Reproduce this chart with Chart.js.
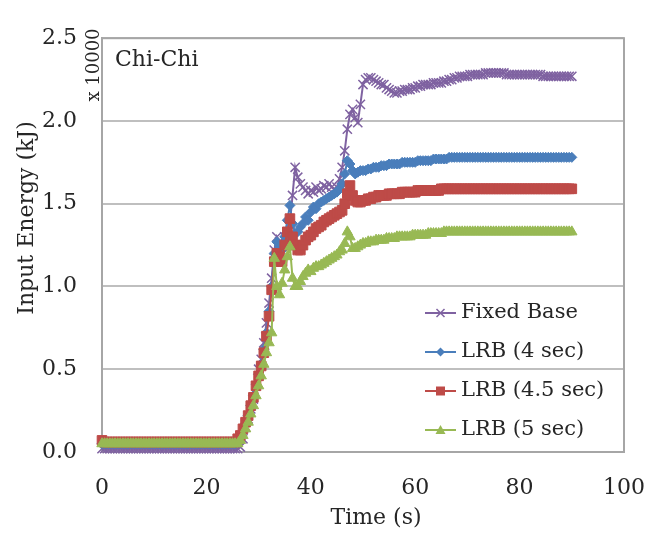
<!DOCTYPE html>
<html><head><meta charset="utf-8">
<script src="https://cdn.jsdelivr.net/npm/chart.js@4.4.1/dist/chart.umd.min.js"></script>
<style>html,body{margin:0;padding:0;background:#fff;}#wrap{width:668px;height:534px;}</style>
</head><body><div id="wrap"><canvas id="c" width="668" height="534"></canvas></div>
<script>
// ---- data (one sample every 0.5 s) ----
const timeSec = [
0,0.5,1,1.5,2,2.5,3,3.5,4,4.5,
5,5.5,6,6.5,7,7.5,8,8.5,9,9.5,
10,10.5,11,11.5,12,12.5,13,13.5,14,14.5,
15,15.5,16,16.5,17,17.5,18,18.5,19,19.5,
20,20.5,21,21.5,22,22.5,23,23.5,24,24.5,
25,25.5,26,26.5,27,27.5,28,28.5,29,29.5,
30,30.5,31,31.5,32,32.5,33,33.5,34,34.5,
35,35.5,36,36.5,37,37.5,38,38.5,39,39.5,
40,40.5,41,41.5,42,42.5,43,43.5,44,44.5,
45,45.5,46,46.5,47,47.5,48,48.5,49,49.5,
50,50.5,51,51.5,52,52.5,53,53.5,54,54.5,
55,55.5,56,56.5,57,57.5,58,58.5,59,59.5,
60,60.5,61,61.5,62,62.5,63,63.5,64,64.5,
65,65.5,66,66.5,67,67.5,68,68.5,69,69.5,
70,70.5,71,71.5,72,72.5,73,73.5,74,74.5,
75,75.5,76,76.5,77,77.5,78,78.5,79,79.5,
80,80.5,81,81.5,82,82.5,83,83.5,84,84.5,
85,85.5,86,86.5,87,87.5,88,88.5,89,89.5,
90];

const fixedBase = [
0.02,0.02,0.02,0.02,0.02,0.02,0.02,0.02,0.02,0.02,
0.02,0.02,0.02,0.02,0.02,0.02,0.02,0.02,0.02,0.02,
0.02,0.02,0.02,0.02,0.02,0.02,0.02,0.02,0.02,0.02,
0.02,0.02,0.02,0.02,0.02,0.02,0.02,0.02,0.02,0.02,
0.02,0.02,0.02,0.02,0.02,0.02,0.02,0.02,0.02,0.02,
0.02,0.02,0.02,0.03,0.08,0.15,0.20,0.26,0.32,0.40,
0.50,0.56,0.66,0.78,0.90,1.05,1.22,1.30,1.27,1.25,
1.30,1.33,1.38,1.55,1.72,1.66,1.62,1.60,1.58,1.56,
1.58,1.57,1.60,1.58,1.59,1.61,1.60,1.62,1.60,1.59,
1.60,1.65,1.72,1.82,1.95,2.04,2.07,2.02,1.99,2.10,
2.22,2.25,2.26,2.26,2.25,2.24,2.23,2.22,2.22,2.20,
2.19,2.18,2.17,2.17,2.18,2.18,2.19,2.19,2.19,2.20,
2.20,2.21,2.21,2.22,2.22,2.22,2.22,2.23,2.23,2.23,
2.23,2.24,2.24,2.25,2.25,2.26,2.26,2.27,2.27,2.27,
2.27,2.28,2.28,2.28,2.28,2.28,2.28,2.29,2.29,2.29,
2.29,2.29,2.29,2.29,2.29,2.28,2.28,2.28,2.28,2.28,
2.28,2.28,2.28,2.28,2.28,2.28,2.28,2.28,2.28,2.27,
2.27,2.27,2.27,2.27,2.27,2.27,2.27,2.27,2.27,2.27,
2.27];

const lrb4 = [
0.05,0.05,0.05,0.05,0.05,0.05,0.05,0.05,0.05,0.05,
0.05,0.05,0.05,0.05,0.05,0.05,0.05,0.05,0.05,0.05,
0.05,0.05,0.05,0.05,0.05,0.05,0.05,0.05,0.05,0.05,
0.05,0.05,0.05,0.05,0.05,0.05,0.05,0.05,0.05,0.05,
0.05,0.05,0.05,0.05,0.05,0.05,0.05,0.05,0.05,0.05,
0.05,0.05,0.06,0.08,0.12,0.17,0.22,0.28,0.34,0.41,
0.47,0.53,0.62,0.72,0.85,1.00,1.20,1.27,1.25,1.22,
1.30,1.40,1.49,1.38,1.32,1.33,1.36,1.38,1.42,1.40,
1.45,1.48,1.47,1.50,1.51,1.52,1.53,1.54,1.55,1.56,
1.57,1.59,1.62,1.68,1.76,1.74,1.70,1.68,1.69,1.70,
1.70,1.70,1.71,1.71,1.72,1.72,1.72,1.73,1.73,1.73,
1.74,1.74,1.74,1.74,1.74,1.75,1.75,1.75,1.75,1.75,
1.75,1.76,1.76,1.76,1.76,1.76,1.76,1.77,1.77,1.77,
1.77,1.77,1.77,1.78,1.78,1.78,1.78,1.78,1.78,1.78,
1.78,1.78,1.78,1.78,1.78,1.78,1.78,1.78,1.78,1.78,
1.78,1.78,1.78,1.78,1.78,1.78,1.78,1.78,1.78,1.78,
1.78,1.78,1.78,1.78,1.78,1.78,1.78,1.78,1.78,1.78,
1.78,1.78,1.78,1.78,1.78,1.78,1.78,1.78,1.78,1.78,
1.78];

const lrb45 = [
0.07,0.06,0.06,0.06,0.06,0.06,0.06,0.06,0.06,0.06,
0.06,0.06,0.06,0.06,0.06,0.06,0.06,0.06,0.06,0.06,
0.06,0.06,0.06,0.06,0.06,0.06,0.06,0.06,0.06,0.06,
0.06,0.06,0.06,0.06,0.06,0.06,0.06,0.06,0.06,0.06,
0.06,0.06,0.06,0.06,0.06,0.06,0.06,0.06,0.06,0.06,
0.06,0.06,0.08,0.10,0.14,0.18,0.22,0.28,0.33,0.40,
0.46,0.52,0.60,0.70,0.82,0.98,1.15,1.20,1.18,1.15,
1.25,1.33,1.41,1.30,1.25,1.22,1.22,1.25,1.28,1.30,
1.31,1.33,1.35,1.36,1.37,1.39,1.40,1.41,1.42,1.43,
1.44,1.45,1.46,1.50,1.56,1.61,1.55,1.52,1.51,1.51,
1.52,1.52,1.53,1.53,1.54,1.54,1.55,1.55,1.55,1.55,
1.56,1.56,1.56,1.56,1.56,1.57,1.57,1.57,1.57,1.57,
1.57,1.58,1.58,1.58,1.58,1.58,1.58,1.58,1.58,1.58,
1.59,1.59,1.59,1.59,1.59,1.59,1.59,1.59,1.59,1.59,
1.59,1.59,1.59,1.59,1.59,1.59,1.59,1.59,1.59,1.59,
1.59,1.59,1.59,1.59,1.59,1.59,1.59,1.59,1.59,1.59,
1.59,1.59,1.59,1.59,1.59,1.59,1.59,1.59,1.59,1.59,
1.59,1.59,1.59,1.59,1.59,1.59,1.59,1.59,1.59,1.59,
1.59];

const lrb5 = [
0.05,0.05,0.05,0.05,0.05,0.05,0.05,0.05,0.05,0.05,
0.05,0.05,0.05,0.05,0.05,0.05,0.05,0.05,0.05,0.05,
0.05,0.05,0.05,0.05,0.05,0.05,0.05,0.05,0.05,0.05,
0.05,0.05,0.05,0.05,0.05,0.05,0.05,0.05,0.05,0.05,
0.05,0.05,0.05,0.05,0.05,0.05,0.05,0.05,0.05,0.05,
0.05,0.05,0.05,0.07,0.10,0.14,0.18,0.23,0.28,0.34,
0.40,0.46,0.53,0.60,0.66,0.72,1.17,1.00,0.95,1.02,
1.10,1.18,1.24,1.05,1.00,1.00,1.03,1.06,1.08,1.10,
1.09,1.11,1.12,1.12,1.13,1.14,1.15,1.16,1.17,1.18,
1.19,1.21,1.22,1.26,1.33,1.30,1.23,1.23,1.24,1.25,
1.26,1.26,1.27,1.27,1.27,1.28,1.28,1.28,1.28,1.29,
1.29,1.29,1.29,1.30,1.30,1.30,1.30,1.30,1.30,1.31,
1.31,1.31,1.31,1.31,1.31,1.32,1.32,1.32,1.32,1.32,
1.32,1.33,1.33,1.33,1.33,1.33,1.33,1.33,1.33,1.33,
1.33,1.33,1.33,1.33,1.33,1.33,1.33,1.33,1.33,1.33,
1.33,1.33,1.33,1.33,1.33,1.33,1.33,1.33,1.33,1.33,
1.33,1.33,1.33,1.33,1.33,1.33,1.33,1.33,1.33,1.33,
1.33,1.33,1.33,1.33,1.33,1.33,1.33,1.33,1.33,1.33,
1.33];

const seriesNames = ['Fixed Base', 'LRB (4 sec)', 'LRB (4.5 sec)', 'LRB (5 sec)'];
const xTickValues = [0, 20, 40, 60, 80, 100];
const yTickValues = [0.0, 0.5, 1.0, 1.5, 2.0, 2.5];
const chartLabel = 'Chi-Chi';
const yMultiplier = 'x 10000';
const xTitle = 'Time (s)';
const yTitle = 'Input Energy (kJ)';

// ---- styles ----
const colors = ['#7F62A1', '#4A7EBB', '#BE4B48', '#98B954'];
const styles = ['crossRot', 'rectRot', 'rect', 'triangle'];
const radii = [6.5, 5, 6.8, 6];
const FONT = '"DejaVu Serif", "Liberation Serif", serif';
const TXT = '#262626';

function toPts(vals) { return timeSec.map((t, i) => ({ x: t, y: vals[i] })); }
const allVals = [fixedBase, lrb4, lrb45, lrb5];

function legendIcon(i) {
  const c = document.createElement('canvas');
  c.width = 31; c.height = 14;
  const g = c.getContext('2d');
  g.strokeStyle = colors[i]; g.fillStyle = colors[i]; g.lineWidth = 2;
  g.beginPath(); g.moveTo(0, 7); g.lineTo(31, 7); g.stroke();
  const cx = 15.5, cy = 7;
  g.beginPath();
  if (i === 0) { g.lineWidth = 1.5; g.moveTo(cx-4, cy-4); g.lineTo(cx+4, cy+4); g.moveTo(cx-4, cy+4); g.lineTo(cx+4, cy-4); g.stroke(); }
  else if (i === 1) { g.moveTo(cx, cy-4.5); g.lineTo(cx+4.5, cy); g.lineTo(cx, cy+4.5); g.lineTo(cx-4.5, cy); g.closePath(); g.fill(); }
  else if (i === 2) { g.rect(cx-4.5, cy-4.5, 9, 9); g.fill(); }
  else { g.moveTo(cx, cy-5); g.lineTo(cx+5, cy+4); g.lineTo(cx-5, cy+4); g.closePath(); g.fill(); }
  return c;
}
const icons = [0,1,2,3].map(legendIcon);

const datasets = allVals.map((vals, i) => ({
  label: seriesNames[i],
  data: toPts(vals),
  showLine: true,
  borderColor: colors[i],
  backgroundColor: colors[i],
  borderWidth: 2,
  pointStyle: styles[i],
  pointRadius: radii[i],
  pointBorderWidth: i === 0 ? 1.5 : 1,
  pointBorderColor: colors[i],
  pointBackgroundColor: colors[i],
  order: 3 - i,
  clip: 8,
  tension: 0
}));

const extras = {
  id: 'extras',
  afterLayout(chart) {
    const lg = chart.legend, a = chart.chartArea;
    if (lg) {
      lg.left = 412.5; lg.top = 284.5; lg.right = a.right; lg.bottom = 534;
      lg.width = lg.right - lg.left; lg.height = lg.bottom - lg.top;
    }
  },
  beforeDatasetsDraw(chart) {
    const { ctx, chartArea: a } = chart;
    ctx.save();
    ctx.strokeStyle = '#a6a6a6'; ctx.lineWidth = 2;
    ctx.strokeRect(a.left, a.top, a.right - a.left, a.bottom - a.top);
    ctx.restore();
  },
  afterDraw(chart) {
    const { ctx, chartArea: a } = chart;
    ctx.save();
    ctx.fillStyle = TXT;
    ctx.font = '22px ' + FONT;
    ctx.textBaseline = 'middle';
    ctx.textAlign = 'left';
    ctx.fillText(chartLabel, a.left + 13, a.top + 22);
    ctx.textAlign = 'center';
    ctx.fillText(xTitle, 376, 518);
    ctx.save(); ctx.translate(27, 218); ctx.rotate(-Math.PI / 2); ctx.fillText(yTitle, 0, 0); ctx.restore();
    ctx.save(); ctx.translate(94, 65); ctx.rotate(-Math.PI / 2); ctx.font = '18px ' + FONT; ctx.fillText(yMultiplier, 0, 0); ctx.restore();
    ctx.restore();
  }
};

Chart.defaults.font.family = FONT;
Chart.defaults.font.size = 22;
Chart.defaults.color = TXT;

new Chart(document.getElementById('c'), {
  type: 'scatter',
  data: { datasets },
  options: {
    responsive: false,
    animation: false,
    devicePixelRatio: 1,
    layout: { padding: { left: 0, right: 38, top: 24, bottom: 0 } },
    plugins: {
      tooltip: { enabled: false },
      legend: {
        position: 'chartArea',
        align: 'start',
        reverse: true,
        labels: {
          usePointStyle: true,
          pointStyleWidth: 20,
          padding: 18,
          color: TXT,
          font: { family: FONT, size: 21 },
          generateLabels(chart) {
            const items = Chart.defaults.plugins.legend.labels.generateLabels(chart);
            items.forEach(it => { it.pointStyle = icons[it.datasetIndex]; it.lineWidth = 0; });
            return items;
          }
        }
      }
    },
    scales: {
      x: {
        type: 'linear', min: 0, max: 100,
        afterFit(s) { s.height = 82; },
        afterBuildTicks(s) { s.ticks = xTickValues.map(v => ({ value: v })); },
        ticks: { padding: 23, color: TXT, font: { size: 22 } },
        grid: { display: false, drawTicks: false },
        border: { display: true, color: '#a6a6a6', width: 2 }
      },
      y: {
        type: 'linear', min: 0, max: 2.5,
        afterFit(s) { s.width = 102; },
        afterBuildTicks(s) { s.ticks = yTickValues.map(v => ({ value: v })); },
        ticks: { padding: 25, color: TXT, font: { size: 22 }, callback: v => Number(v).toFixed(1) },
        grid: { color: '#bfbfbf', lineWidth: 2, drawTicks: false },
        border: { display: true, color: '#a6a6a6', width: 2 }
      }
    }
  },
  plugins: [extras]
});
</script></body></html>
